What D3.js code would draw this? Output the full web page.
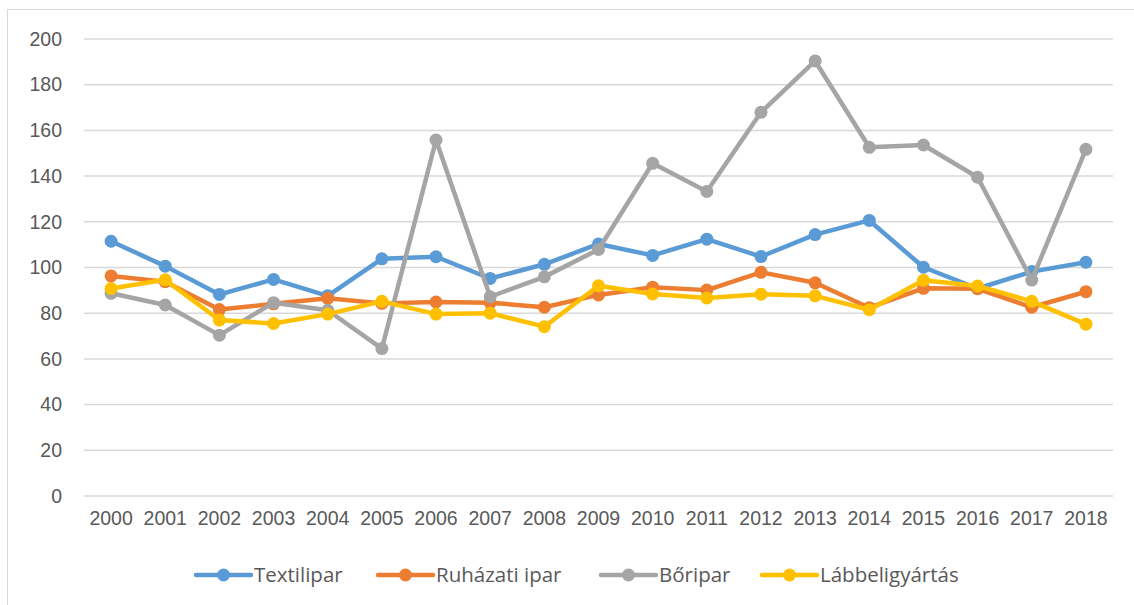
<!DOCTYPE html>
<html lang="hu">
<head>
<meta charset="utf-8">
<title>Iparágak</title>
<script src="https://d3js.org/d3.v7.min.js"></script>
<style>
body { margin: 0; background: #fff; }
svg { display: block; font-family: "Open Sans", sans-serif; }
.grid line { stroke: #d9d9d9; stroke-width: 1.5; }
.axis text { fill: #595959; font-size: 19.5px; }
.legend text { fill: #595959; font-size: 20.5px; }
</style>
</head>
<body>
<svg id="chart" width="1134" height="605"></svg>
<script>
var years = ["2000","2001","2002","2003","2004","2005","2006","2007","2008","2009",
             "2010","2011","2012","2013","2014","2015","2016","2017","2018"];
var yTicks = [0, 20, 40, 60, 80, 100, 120, 140, 160, 180, 200];

var textilipar = [111.5, 100.6, 88.2, 94.8, 87.6, 103.8, 104.7, 95.2, 101.4, 110.3,
                  105.3, 112.4, 104.8, 114.4, 120.6, 100.1, 90.8, 98.2, 102.3];
var ruhazati = [96.3, 93.8, 81.6, 84.1, 86.5, 84.3, 84.9, 84.6, 82.6, 88.0,
                91.4, 90.1, 97.9, 93.3, 82.4, 90.9, 90.7, 82.6, 89.4];
var boripar = [88.7, 83.6, 70.4, 84.6, 81.3, 64.5, 155.8, 87.2, 95.9, 107.9,
               145.6, 133.3, 167.9, 190.4, 152.6, 153.6, 139.5, 94.5, 151.7];
var labbeli = [90.8, 94.6, 77.0, 75.5, 79.6, 85.2, 79.6, 80.0, 74.1, 92.0,
               88.4, 86.7, 88.3, 87.6, 81.5, 94.4, 91.9, 85.2, 75.2];

var seriesNames = ["Textilipar", "Ruházati ipar", "Bőripar", "Lábbeligyártás"];
var seriesColors = ["#5b9bd5", "#ed7d31", "#a5a5a5", "#ffc000"];
var seriesValues = [textilipar, ruhazati, boripar, labbeli];

var svg = d3.select("#chart");

// chart frame
svg.append("rect")
    .attr("x", 7.5).attr("y", 9.5)
    .attr("width", 1140).attr("height", 620)
    .attr("fill", "none").attr("stroke", "#d9d9d9").attr("stroke-width", 1);

var x = d3.scaleBand().domain(years).range([84, 1113]).padding(0);
var y = d3.scaleLinear().domain([0, 200]).range([496, 39]);

// gridlines
svg.append("g").attr("class", "grid")
  .selectAll("line").data(yTicks).enter().append("line")
    .attr("x1", 84).attr("x2", 1113)
    .attr("y1", function(d) { return y(d); })
    .attr("y2", function(d) { return y(d); });

// y axis labels
var yAxis = svg.append("g").attr("class", "axis")
    .attr("transform", "translate(70,0)")
    .call(d3.axisLeft(y).tickValues(yTicks).tickSize(0).tickPadding(8));
yAxis.select(".domain").remove();

// x axis labels
var xAxis = svg.append("g").attr("class", "axis")
    .attr("transform", "translate(0,511)")
    .call(d3.axisBottom(x).tickSize(0).tickPadding(0));
xAxis.select(".domain").remove();
xAxis.selectAll("text").attr("dy", "0.71em");

var line = d3.line()
    .x(function(d, i) { return x(years[i]) + x.bandwidth() / 2; })
    .y(function(d) { return y(d); });

seriesValues.forEach(function(vals, s) {
  var g = svg.append("g");
  g.append("path")
      .datum(vals)
      .attr("d", line)
      .attr("fill", "none")
      .attr("stroke", seriesColors[s])
      .attr("stroke-width", 4.5)
      .attr("stroke-linejoin", "round")
      .attr("stroke-linecap", "round");
  g.selectAll("circle").data(vals).enter().append("circle")
      .attr("cx", function(d, i) { return x(years[i]) + x.bandwidth() / 2; })
      .attr("cy", function(d) { return y(d); })
      .attr("r", 6.5)
      .attr("fill", seriesColors[s]);
});

// legend
var legendX = [196, 378, 601, 762];
var legend = svg.append("g").attr("class", "legend");
seriesNames.forEach(function(name, s) {
  var lg = legend.append("g").attr("transform", "translate(" + legendX[s] + ",575)");
  lg.append("line")
      .attr("x1", 0).attr("x2", 55).attr("y1", 0).attr("y2", 0)
      .attr("stroke", seriesColors[s]).attr("stroke-width", 4.5)
      .attr("stroke-linecap", "round");
  lg.append("circle").attr("cx", 27.5).attr("cy", 0).attr("r", 6.5)
      .attr("fill", seriesColors[s]);
  lg.append("text").attr("x", 58).attr("y", 0).attr("dy", "0.35em").text(name);
});
</script>
</body>
</html>
